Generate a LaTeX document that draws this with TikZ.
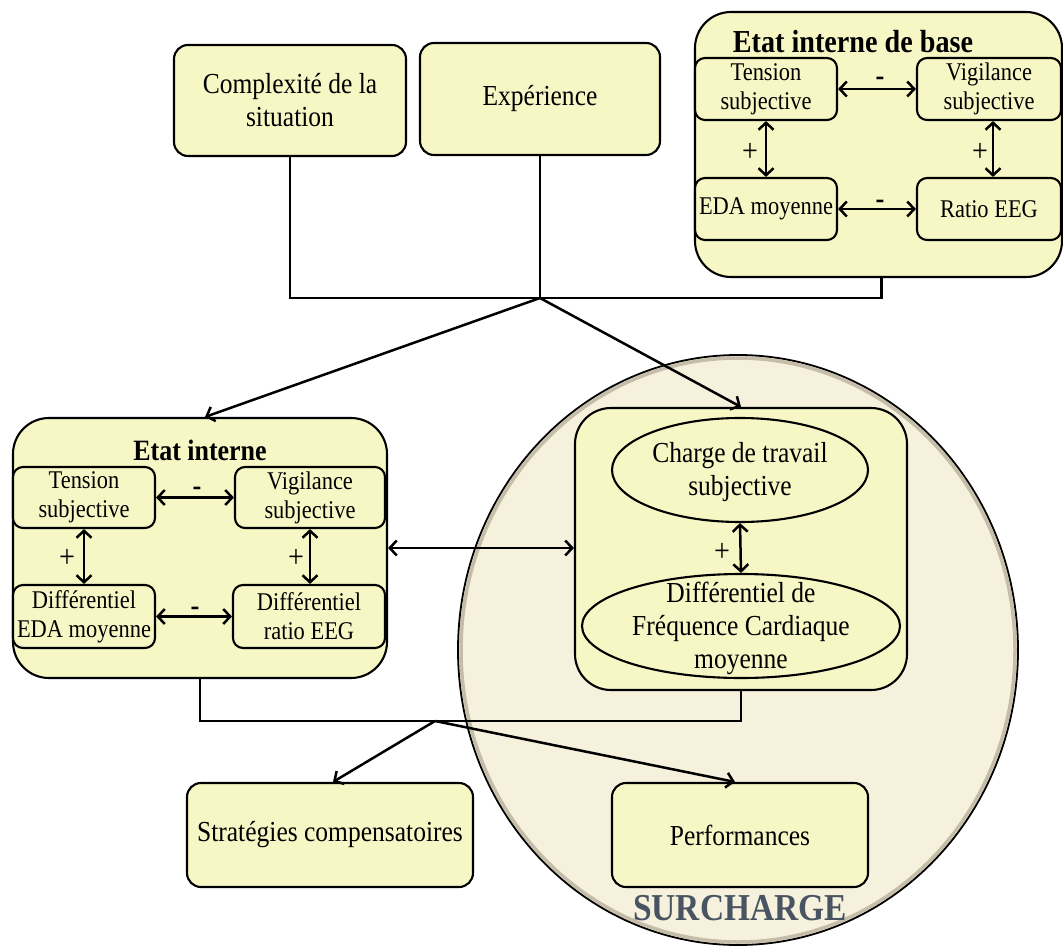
\documentclass[tikz,border=0pt]{standalone}
\usepackage{fontspec}
\setmainfont[FakeStretch=0.88]{Liberation Serif}
\usetikzlibrary{arrows.meta,shapes.geometric,calc}
\definecolor{boxfill}{RGB}{247,247,198}
\definecolor{circfill}{RGB}{245,241,220}
\definecolor{rim}{RGB}{165,155,135}
\definecolor{surch}{RGB}{72,84,98}
\begin{document}
\begin{tikzpicture}[x=1pt,y=-1pt,
  box/.style={draw=black, line width=2.1pt, fill=boxfill, rounded corners=14pt, align=center, inner sep=0pt, font=\fontsize{29}{33}\selectfont},
  group/.style={draw=black, line width=2.1pt, fill=boxfill, rounded corners=36pt, inner sep=0pt},
  small/.style={draw=black, line width=2.1pt, fill=boxfill, rounded corners=10pt, align=center, inner sep=0pt, font=\fontsize{25.5}{29}\selectfont},
  oval/.style={ellipse, draw=black, line width=2.1pt, fill=boxfill, inner sep=0pt},
  ovaltext/.style={align=center, inner sep=0pt, font=\fontsize{29}{33}\selectfont},
  conn/.style={line width=2.5pt},
  arr/.style={line width=2.5pt, -{Straight Barb[length=7pt,width=15pt]}},
  rel/.style={line width=2.5pt, {Straight Barb[length=7pt,width=15pt]}-{Straight Barb[length=7pt,width=15pt]}},
  sign/.style={font=\fontsize{32}{32}\selectfont, inner sep=0pt},
  minus/.style={font=\bfseries\fontsize{30}{30}\selectfont, inner sep=0pt, text height=8pt, text depth=0pt},
  title/.style={font=\bfseries\fontsize{29.5}{30}\selectfont, inner sep=0pt}
]
\useasboundingbox[fill=white] (0,0) rectangle (1063,947);

% background oval SURCHARGE
\node[ellipse, fill=circfill, draw=black, line width=1.8pt, minimum width=560pt, minimum height=590pt, inner sep=0pt] (circ) at (738,650) {};
\draw[rim, line width=3.5pt, opacity=0.6] (738,650) ellipse [x radius=277pt, y radius=292pt];
\node[font=\bfseries\fontsize{38}{38}\selectfont, text=surch, inner sep=0pt] (surlbl) at (740,908) {SURCHARGE};

% top boxes
\node[box, minimum width=232pt, minimum height=111pt] (cplx) at (290,100.5) {Complexité de la\\situation};
\node[box, minimum width=240pt, minimum height=112pt] (exp) at (540,99) {Expérience};

% Etat interne de base
\node[group, minimum width=367pt, minimum height=265pt] (base) at (878.5,144.5) {};
\node[title, font=\bfseries\fontsize{32}{32}\selectfont] (basetitle) at (853,42) {Etat interne de base};
\node[small, minimum width=142pt, minimum height=62pt] (bten) at (766,89) {Tension\\subjective};
\node[small, minimum width=144pt, minimum height=62pt] (bvig) at (989,89) {Vigilance\\subjective};
\node[small, minimum width=142pt, minimum height=62pt] (beda) at (766,209) {EDA moyenne};
\node[small, minimum width=144pt, minimum height=62pt] (beeg) at (989,209) {Ratio EEG};
\draw[rel] (bten.east) -- (bvig.west);
\draw[rel] (beda.east) -- (beeg.west);
\draw[rel] (bten.south) -- (beda.north);
\draw[rel] ($(bvig.south)+(4,0)$) -- ($(beeg.north)+(4,0)$);
\node[minus] (bs1) at (880,82) {-};
\node[minus] (bs2) at (880,204) {-};
\node[sign] (bp1) at (750,152) {+};
\node[sign] (bp2) at (980,152) {+};

% junction top
\coordinate (J1) at (540,298);
\draw[conn] (cplx.south) |- (J1) -| ($(base.south)+(3,0)$);
\draw[conn] (exp.south) -- (J1);

% Etat interne
\node[group, minimum width=374pt, minimum height=260pt] (ei) at (200,548) {};
\node[title] (eititle) at (200,450) {Etat interne};
\node[small, minimum width=142pt, minimum height=61pt] (eten) at (84,497.5) {Tension\\subjective};
\node[small, minimum width=150pt, minimum height=61pt] (evig) at (310,497.5) {Vigilance\\subjective};
\node[small, minimum width=142pt, minimum height=63pt] (eeda) at (84,616.5) {Différentiel\\EDA moyenne};
\node[small, minimum width=152pt, minimum height=63pt] (eeeg) at (309,616.5) {Différentiel\\ratio EEG};
\draw[rel] (eten.east) -- (evig.west);
\draw[rel] (eeda.east) -- (eeeg.west);
\draw[rel] (eten.south) -- (eten.south |- eeda.north);
\draw[rel] (evig.south) -- (evig.south |- eeeg.north);
\node[minus] (es1) at (197,491) {-};
\node[minus] (es2) at (195,611) {-};
\node[sign] (ep1) at (67,558) {+};
\node[sign] (ep2) at (296,558) {+};

% charge
\node[group, minimum width=332pt, minimum height=282pt] (ch) at (741,549) {};
\node[oval, minimum width=256pt, minimum height=104pt] (ell1) at (740,470) {};
\node[ovaltext] (ell1t) at (740,472) {Charge de travail\\subjective};
\node[oval, minimum width=318pt, minimum height=104pt] (ell2) at (741,626) {};
\node[ovaltext] (ell2t) at (741,628) {Différentiel de\\Fréquence Cardiaque\\moyenne};
\draw[rel] (ell1.south) -- (ell2.north);
\node[sign] (cp1) at (722,552) {+};

\draw[arr] (J1) -- ($(ei.north)+(5,0)$);
\draw[arr] (J1) -- (ch.north);
\draw[rel] (ei.east |- 0,548) -- (ch.west |- 0,548);

% bottom
\coordinate (J2) at (435,721);
\draw[conn] (ei.south) |- (J2) -| (ch.south);
\node[box, minimum width=286pt, minimum height=104pt] (strat) at (330,835) {Stratégies compensatoires};
\node[box, minimum width=256pt, minimum height=104pt] (perf) at (740,835) {Performances};
\draw[arr] (J2) -- ($(strat.north)+(3,0)$);
\draw[arr] (J2) -- ($(perf.north)+(-5,0)$);
\end{tikzpicture}
\end{document}
